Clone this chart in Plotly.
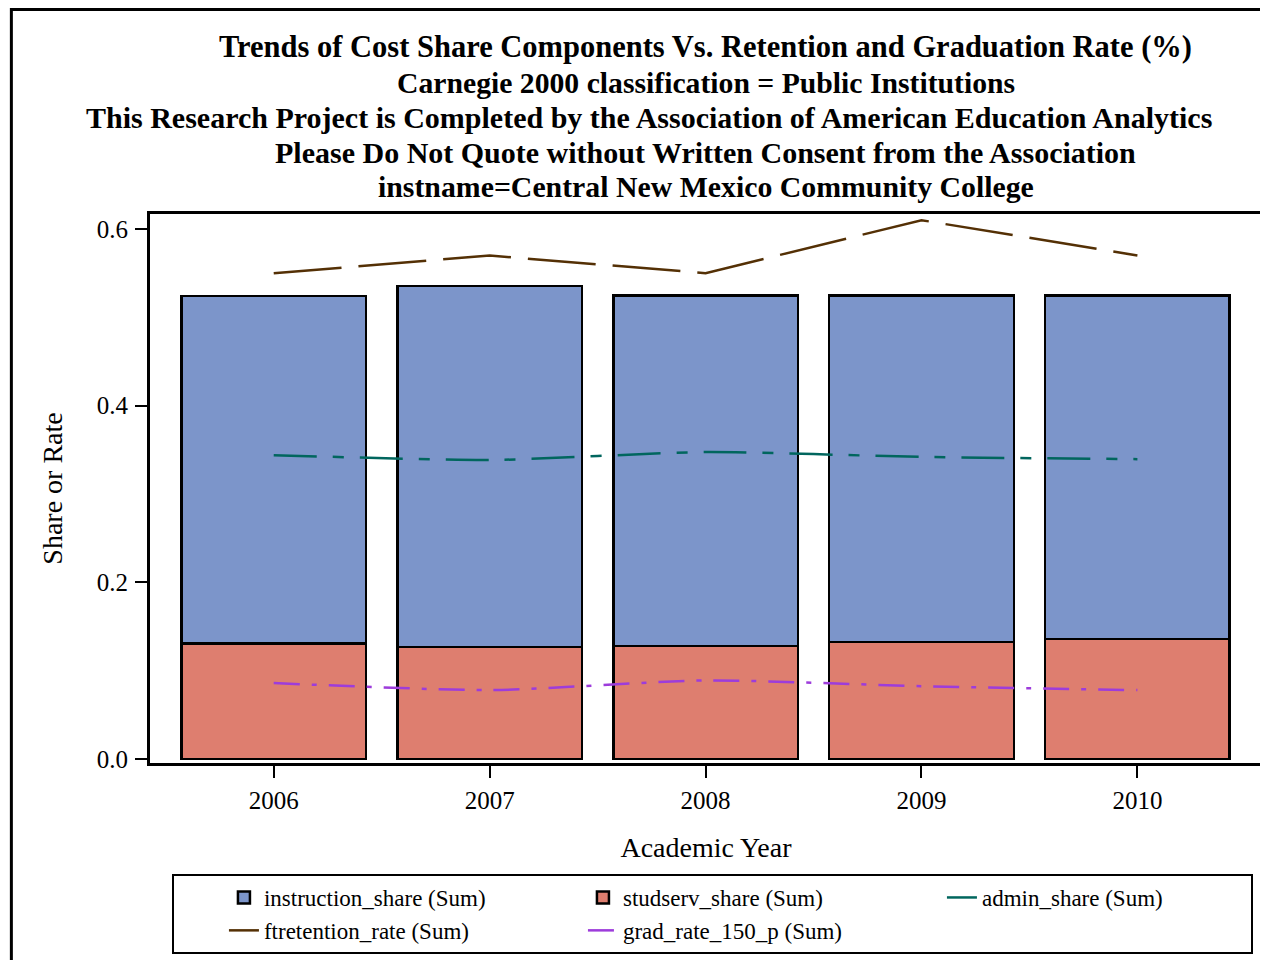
import plotly.graph_objects as go

years = ["2006", "2007", "2008", "2009", "2010"]
studserv_share = [0.131, 0.127, 0.128, 0.1325, 0.136]
instruction_share = [0.393, 0.4085, 0.397, 0.3925, 0.389]
admin_share = [0.344, 0.3385, 0.3475, 0.342, 0.3395]
ftretention_rate = [0.55, 0.57, 0.55, 0.61, 0.57]
grad_rate_150_p = [0.086, 0.078, 0.089, 0.0825, 0.078]

title_lines = [
    "Trends of Cost Share Components Vs. Retention and Graduation Rate (%)",
    "Carnegie 2000 classification = Public Institutions",
    "This Research Project is Completed by the Association of American Education Analytics",
    "Please Do Not Quote without Written Consent from the Association",
    "instname=Central New Mexico Community College",
]

FONT = "Liberation Serif, Times New Roman, serif"
BLUE = "#7C95CA"
RED = "#DE7E6F"
TEAL = "#01665E"
BROWN = "#543005"
PURPLE = "#9D3CDB"

# page offset of the plotly div (default body margin)
OFF = 8
FIG_W, FIG_H = 1268 - OFF, 960 - OFF
PL, PT, PW, PH = 150, 214, 1115, 549  # target plot area on the page


def px_x(px):
    return (px - PL) / PW


def px_y(py):
    return (PT + PH - py) / PH


fig = go.Figure()
fig.add_trace(go.Bar(x=years, y=studserv_share, name="studserv_share (Sum)",
                     marker=dict(color=RED, line=dict(color="black", width=2.5)),
                     width=0.855, legendrank=2))
fig.add_trace(go.Bar(x=years, y=instruction_share, name="instruction_share (Sum)",
                     marker=dict(color=BLUE, line=dict(color="black", width=2.5)),
                     width=0.855, legendrank=1))
fig.add_trace(go.Scatter(x=years, y=admin_share, name="admin_share (Sum)", mode="lines",
                         line=dict(color=TEAL, width=2.5, dash="43px,16px,11px,16px",
                                   shape="spline", smoothing=0.6), legendrank=3))
fig.add_trace(go.Scatter(x=years, y=ftretention_rate, name="ftretention_rate (Sum)", mode="lines",
                         line=dict(color=BROWN, width=2.5, dash="68px,17px"), legendrank=4))
fig.add_trace(go.Scatter(x=years, y=grad_rate_150_p, name="grad_rate_150_p (Sum)", mode="lines",
                         line=dict(color=PURPLE, width=2.5, dash="26px,12px,5px,12px",
                                   shape="spline", smoothing=0.6), legendrank=5))

annotations = []
title_y = [47, 83, 117, 152, 186]
title_x = [707, 708, 650, 707, 707]
title_size = [30.5, 29.7, 30, 30, 29.8]
for txt, py, px, fs in zip(title_lines, title_y, title_x, title_size):
    annotations.append(dict(text="<b>" + txt + "</b>", xref="paper", yref="paper",
                            x=px_x(px), y=px_y(py),
                            xanchor="center", yanchor="middle", showarrow=False,
                            font=dict(family=FONT, size=fs, color="black")))

fig.update_layout(
    width=FIG_W, height=FIG_H,
    margin=dict(l=PL - OFF, r=FIG_W - (PL - OFF) - PW, t=PT - OFF, b=FIG_H - (PT - OFF) - PH),
    paper_bgcolor="white", plot_bgcolor="white",
    barmode="stack", bargap=0.145,
    font=dict(family=FONT, color="black", size=25),
    annotations=annotations,
    showlegend=True,
    legend=dict(orientation="h", x=px_x(172), y=px_y(874),
                xanchor="left", yanchor="top", bordercolor="black", borderwidth=2,
                font=dict(family=FONT, size=23, color="black"),
                entrywidth=264, entrywidthmode="pixels", traceorder="normal",
                indentation=50, bgcolor="white"),
    shapes=[dict(type="rect", xref="paper", yref="paper",
                 x0=px_x(11), x1=px_x(1300),
                 y0=px_y(1000), y1=px_y(9.5),
                 line=dict(color="black", width=3), fillcolor="rgba(0,0,0,0)", layer="below")],
)
fig.update_xaxes(type="category", range=[-0.573, 4.577], showline=True, linecolor="black",
                 linewidth=3, mirror=True, ticks="outside", ticklen=12, tickwidth=2,
                 tickcolor="black", tickfont=dict(family=FONT, size=25), ticklabelstandoff=1,
                 title=dict(text="Academic Year", font=dict(family=FONT, size=28), standoff=25),
                 showgrid=False, zeroline=False)
fig.update_yaxes(range=[-0.0045, 0.617], tickvals=[0, 0.2, 0.4, 0.6],
                 ticktext=["0.0", "0.2", "0.4", "0.6"], showline=True, linecolor="black",
                 linewidth=3, mirror=True, ticks="outside", ticklen=12, tickwidth=2,
                 tickcolor="black", tickfont=dict(family=FONT, size=25), ticklabelstandoff=2,
                 title=dict(text="Share or Rate", font=dict(family=FONT, size=28), standoff=26),
                 showgrid=False, zeroline=False)

fig.write_html("out.html")
